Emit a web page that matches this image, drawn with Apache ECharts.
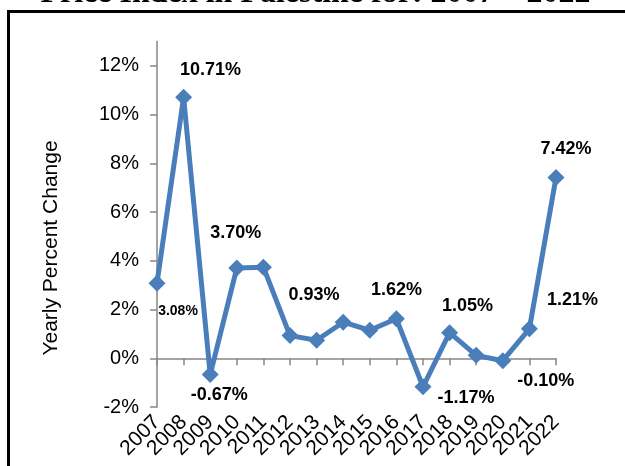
<!DOCTYPE html>
<html>
<head>
<meta charset="utf-8">
<script src="https://cdn.jsdelivr.net/npm/echarts@6/dist/echarts.min.js"></script>
<style>
html,body{margin:0;padding:0;background:#fff;}
#chart{width:625px;height:466px;}
</style>
</head>
<body>
<div id="chart"></div>
<script>
const titleText = 'Price Index in Palestine for: 2007 – 2022';
const yAxisName = 'Yearly Percent Change';
const years = ['2007','2008','2009','2010','2011','2012','2013','2014','2015','2016','2017','2018','2019','2020','2021','2022'];
const values = [3.08, 10.71, -0.67, 3.70, 3.74, 0.93, 0.74, 1.48, 1.15, 1.62, -1.17, 1.05, 0.12, -0.10, 1.21, 7.42];
const yTicks = [-2, 0, 2, 4, 6, 8, 10, 12];
const labeledYears = ['2007','2008','2009','2010','2012','2016','2017','2018','2020','2021','2022'];

// label placement (styling only)
const labelOffsets = {
  '2007': [21, 28], '2008': [27, -27], '2009': [9, 20], '2010': [-1, -35],
  '2012': [24, -41], '2016': [0, -29], '2017': [43, 11], '2018': [18, -27],
  '2020': [43, 20], '2021': [43, -29], '2022': [10, -28]
};

const LINE = '#4A7EBB';
const AXIS = '#868686';
const SANS = '"Liberation Sans", Arial, sans-serif';

const seriesData = years.map((y, i) => {
  const item = { value: values[i] };
  if (labeledYears.includes(y)) {
    item.label = {
      show: true,
      position: 'inside',
      offset: labelOffsets[y],
      formatter: values[i].toFixed(2) + '%',
      fontSize: y === '2007' ? 14 : 18
    };
  } else {
    item.label = { show: false };
  }
  return item;
});

const chart = echarts.init(document.getElementById('chart'), null, { renderer: 'canvas' });
chart.setOption({
  backgroundColor: '#ffffff',
  animation: false,
  grid: { left: 157, right: 69, top: 41.5, bottom: 59, containLabel: false },
  xAxis: [
    {
      type: 'category', data: years, boundaryGap: false, position: 'bottom',
      axisLine: { show: false, onZero: false },
      axisTick: { show: false },
      axisLabel: { rotate: 45, margin: 12, fontSize: 21, color: '#000', fontFamily: SANS, interval: 0 },
      splitLine: { show: false }
    },
    {
      type: 'category', data: years, boundaryGap: false, position: 'bottom',
      axisLine: { show: true, onZero: true, lineStyle: { color: AXIS, width: 1.5 } },
      axisTick: { show: true, length: 7, interval: 0, lineStyle: { color: AXIS, width: 1.5 } },
      axisLabel: { show: false },
      splitLine: { show: false }
    }
  ],
  yAxis: {
    type: 'value', min: -2, max: 13, interval: 2,
    axisLine: { show: true, lineStyle: { color: AXIS, width: 1.5 } },
    axisTick: { show: true, length: 7, customValues: yTicks, lineStyle: { color: AXIS, width: 1.5 } },
    axisLabel: { customValues: yTicks, formatter: v => v + '%', margin: 18, fontSize: 20, color: '#000', fontFamily: SANS },
    splitLine: { show: false }
  },
  series: [{
    type: 'line',
    xAxisIndex: 0,
    data: seriesData,
    color: LINE,
    lineStyle: { color: LINE, width: 5 },
    itemStyle: { color: LINE },
    symbol: 'diamond',
    symbolSize: 17,
    label: { color: '#000', fontWeight: 'bold', fontFamily: SANS, fontSize: 18 },
    z: 3
  }],
  graphic: [
    {
      type: 'rect', silent: true, z: 100,
      shape: { x: 8.5, y: 11.5, width: 800, height: 800 },
      style: { fill: 'none', stroke: '#000', lineWidth: 3 }
    },
    {
      type: 'text', silent: true, z: 100,
      x: 315.5, y: -6,
      style: { text: titleText, font: 'bold 32px "Liberation Serif", "Times New Roman", serif', fill: '#000', textAlign: 'center', textVerticalAlign: 'middle' }
    },
    {
      type: 'text', silent: true, z: 100,
      x: 51, y: 248, rotation: Math.PI / 2,
      style: { text: yAxisName, font: '21px "Liberation Sans", Arial, sans-serif', fill: '#000', textAlign: 'center', textVerticalAlign: 'middle' }
    }
  ]
});
</script>
</body>
</html>
